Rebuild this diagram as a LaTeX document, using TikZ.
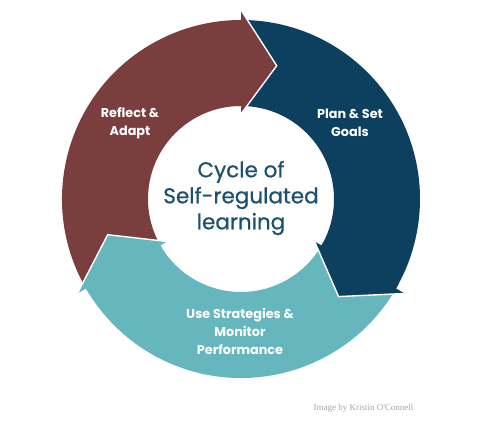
\documentclass[tikz,border=0pt]{standalone}
\usepackage{fontspec}
\setmainfont{Poppins}
\newfontfamily\cyclefont{Poppins}[UprightFeatures={FakeBold=0.7}]
\newfontfamily\creditfont{Liberation Serif}
\definecolor{reflectred}{HTML}{7B3E3E}
\definecolor{planblue}{HTML}{0D3F5F}
\definecolor{monitorteal}{HTML}{66B6BE}
\definecolor{cycletext}{HTML}{1D4F6E}
\tikzset{
  headedge/.style={draw=white, line width=1.4pt, line join=miter},
  steplabel/.style={text=white, font=\bfseries\fontsize{12.8}{18}\selectfont, align=center},
  cyclelabel/.style={text=cycletext, font=\cyclefont\fontsize{21.5}{26}\selectfont, align=center},
}
\begin{document}
\begin{tikzpicture}[x=1pt, y=1pt]
  \useasboundingbox (0,0) rectangle (490,422);

  \begin{scope}[shift={(241,223)}]
    % Ring bodies
    \fill[reflectred] (210:179pt) arc[start angle=210, end angle=90, radius=179pt]
      -- (90:93pt) arc[start angle=90, end angle=210, radius=93pt] -- cycle;
    \fill[planblue] (90:179pt) arc[start angle=90, end angle=-30, radius=179pt]
      -- (-30:93pt) arc[start angle=-30, end angle=90, radius=93pt] -- cycle;
    \fill[monitorteal] (-30:179pt) arc[start angle=-30, end angle=-150, radius=179pt]
      -- (-150:93pt) arc[start angle=-150, end angle=-30, radius=93pt] -- cycle;

    % Arrow heads
    \fill[reflectred] (92:179pt) -- (90:179pt) -- (90:189pt) -- (75:138pt)
      -- (90:85pt) -- (90:93pt) -- (92:93pt) -- cycle;
    \draw[headedge] (90:189pt) -- (75:138pt) -- (90:85pt);

    \fill[planblue] (-28:179pt) -- (-30:179pt) -- (-30:189pt) -- (-45:138pt)
      -- (-30:85pt) -- (-30:93pt) -- (-28:93pt) -- cycle;
    \draw[headedge] (-30:189pt) -- (-45:138pt) -- (-30:85pt);

    \fill[monitorteal] (-148:179pt) -- (-150:179pt) -- (-150:189pt) -- (-165:138pt)
      -- (-150:85pt) -- (-150:93pt) -- (-148:93pt) -- cycle;
    \draw[headedge] (-150:189pt) -- (-165:138pt) -- (-150:85pt);
  \end{scope}

  % Labels
  \node[steplabel] (reflect) at (130,299) {Reflect \&\\Adapt};
  \node[steplabel] (plan) at (350,299) {Plan \& Set\\Goals};
  \node[steplabel] (monitor) at (240,91) {Use Strategies \&\\Monitor\\Performance};
  \node[cyclelabel] (cycle) at (241,224) {Cycle of\\Self-regulated\\learning};

  % Credit
  \node[anchor=east, text=gray!70, font=\creditfont\fontsize{9}{11}\selectfont] (credit) at (417,14) {Image by Kristin O'Connell};
\end{tikzpicture}
\end{document}
